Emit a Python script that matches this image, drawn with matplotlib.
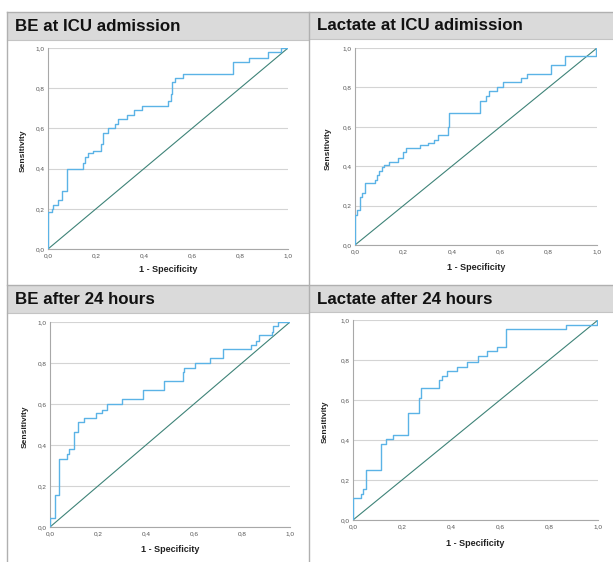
import matplotlib.pyplot as plt
from matplotlib.patches import Rectangle

plt.rcParams['font.family'] = ['Liberation Sans', 'DejaVu Sans']

titles = ['BE at ICU admission', 'Lactate at ICU adimission',
          'BE after 24 hours', 'Lactate after 24 hours']

# ROC points (1 - specificity, sensitivity)
be_icu_fpr = [0, 0, 0.015, 0.022, 0.043, 0.06, 0.078, 0.144, 0.154, 0.168, 0.189,
              0.221, 0.23, 0.251, 0.279, 0.293, 0.328, 0.36, 0.39, 0.50, 0.512,
              0.515, 0.53, 0.564, 0.77, 0.838, 0.915, 0.971, 1.0]
be_icu_tpr = [0, 0.186, 0.2, 0.22, 0.245, 0.29, 0.40, 0.426, 0.46, 0.476, 0.49,
              0.52, 0.575, 0.60, 0.62, 0.647, 0.667, 0.69, 0.713, 0.735, 0.77,
              0.83, 0.85, 0.87, 0.93, 0.95, 0.98, 1.0, 1.0]

lac_icu_fpr = [0, 0, 0.008, 0.022, 0.029, 0.043, 0.082, 0.092, 0.098, 0.11, 0.119,
               0.14, 0.179, 0.198, 0.209, 0.268, 0.30, 0.327, 0.345, 0.384, 0.39,
               0.515, 0.542, 0.553, 0.587, 0.612, 0.685, 0.712, 0.81, 0.868, 0.995, 1.0]
lac_icu_tpr = [0, 0.152, 0.178, 0.245, 0.262, 0.313, 0.33, 0.355, 0.376, 0.398, 0.406,
               0.423, 0.443, 0.47, 0.49, 0.51, 0.517, 0.533, 0.558, 0.60, 0.668,
               0.73, 0.758, 0.78, 0.80, 0.826, 0.846, 0.87, 0.914, 0.957, 1.0, 1.0]

be_24_fpr = [0, 0, 0.022, 0.036, 0.071, 0.078, 0.10, 0.115, 0.14, 0.193, 0.215,
             0.238, 0.30, 0.388, 0.477, 0.555, 0.558, 0.604, 0.666, 0.722, 0.839,
             0.857, 0.871, 0.926, 0.93, 0.95, 1.0]
be_24_tpr = [0, 0.045, 0.154, 0.332, 0.355, 0.38, 0.465, 0.51, 0.533, 0.557, 0.57,
             0.60, 0.624, 0.668, 0.713, 0.757, 0.776, 0.80, 0.825, 0.867, 0.89,
             0.906, 0.935, 0.95, 0.98, 1.0, 1.0]

lac_24_fpr = [0, 0, 0.031, 0.04, 0.053, 0.113, 0.134, 0.165, 0.226, 0.27, 0.277,
              0.353, 0.362, 0.383, 0.426, 0.465, 0.512, 0.546, 0.587, 0.624, 0.871,
              0.996, 1.0]
lac_24_tpr = [0, 0.111, 0.128, 0.153, 0.248, 0.382, 0.405, 0.427, 0.535, 0.61, 0.66,
              0.70, 0.72, 0.747, 0.767, 0.792, 0.82, 0.844, 0.864, 0.955, 0.975,
              1.0, 1.0]

tick_vals = [0.0, 0.2, 0.4, 0.6, 0.8, 1.0]
tick_labels = ['0,0', '0,2', '0,4', '0,6', '0,8', '1,0']

curves = [(be_icu_fpr, be_icu_tpr), (lac_icu_fpr, lac_icu_tpr),
          (be_24_fpr, be_24_tpr), (lac_24_fpr, lac_24_tpr)]

W, H = 613, 562
fig = plt.figure(figsize=(W / 100, H / 100), dpi=100)
bg = fig.add_axes([0, 0, 1, 1])
bg.set_xlim(0, W)
bg.set_ylim(H, 0)
bg.axis('off')

# pixel layout: panel x range, header top/bottom, axes (left, top, right, bottom),
# x-label y, y-label x
layout = [
    dict(x0=7, x1=309, y0=12, hb=40, ax=(48, 48, 288, 249), xl=269, yl=23),
    dict(x0=309, x1=613, y0=12, hb=39, ax=(355, 48, 597, 245), xl=267, yl=328),
    dict(x0=7, x1=309, y0=285, hb=313, ax=(50, 322, 290, 527), xl=550, yl=25),
    dict(x0=309, x1=613, y0=285, hb=312, ax=(353, 320, 598, 520), xl=544, yl=325),
]

border = '#b0b0b0'
for title, (fpr, tpr), lay in zip(titles, curves, layout):
    bg.add_patch(Rectangle((lay['x0'], lay['y0']), lay['x1'] - lay['x0'],
                           lay['hb'] - lay['y0'], facecolor='#dadada',
                           edgecolor='none'))
    bg.plot([lay['x0'], lay['x1']], [lay['hb'], lay['hb']], color='#c4c4c4', lw=0.8)
    bg.text(lay['x0'] + 8, (lay['y0'] + lay['hb']) / 2 + 0.5, title,
            fontsize=12.2, fontweight='bold', va='center', ha='left', color='#111111')

    l, t, r, b = lay['ax']
    ax = fig.add_axes([l / W, 1 - b / H, (r - l) / W, (b - t) / H])
    ax.step(fpr, tpr, where='post', color='#5bb3e6', lw=1.0, zorder=3)
    ax.plot([0, 1], [0, 1], color='#3e8378', lw=0.8, zorder=2)
    ax.set_xlim(0, 1)
    ax.set_ylim(0, 1)
    ax.set_xticks(tick_vals, tick_labels)
    ax.set_yticks(tick_vals, tick_labels)
    ax.tick_params(length=0, labelsize=4.6, labelcolor='#555555')
    ax.tick_params(axis='x', pad=3)
    ax.tick_params(axis='y', pad=2.5)
    ax.yaxis.grid(True, color='#d4d4d4', lw=0.8)
    ax.set_axisbelow(True)
    for side in ['top', 'right']:
        ax.spines[side].set_visible(False)
    for side in ['left', 'bottom']:
        ax.spines[side].set_color('#a8a8a8')
        ax.spines[side].set_linewidth(0.8)
    ax.patch.set_alpha(0)

    bg.text((l + r) / 2, lay['xl'], '1 - Specificity', fontsize=6.5,
            fontweight='bold', ha='center', va='center', color='#222222')
    bg.text(lay['yl'], (t + b) / 2 + 2, 'Sensitivity', fontsize=6,
            fontweight='bold', ha='center', va='center', rotation=90,
            family=['Liberation Sans Narrow', 'Liberation Sans'], color='#222222')

# panel borders
bg.plot([7, 7], [12, H], color=border, lw=1)
bg.plot([309, 309], [12, H], color=border, lw=1)
bg.plot([7, W], [12, 12], color=border, lw=1)
bg.plot([7, W], [285, 285], color=border, lw=1)

fig.savefig('out.png', dpi=100)
